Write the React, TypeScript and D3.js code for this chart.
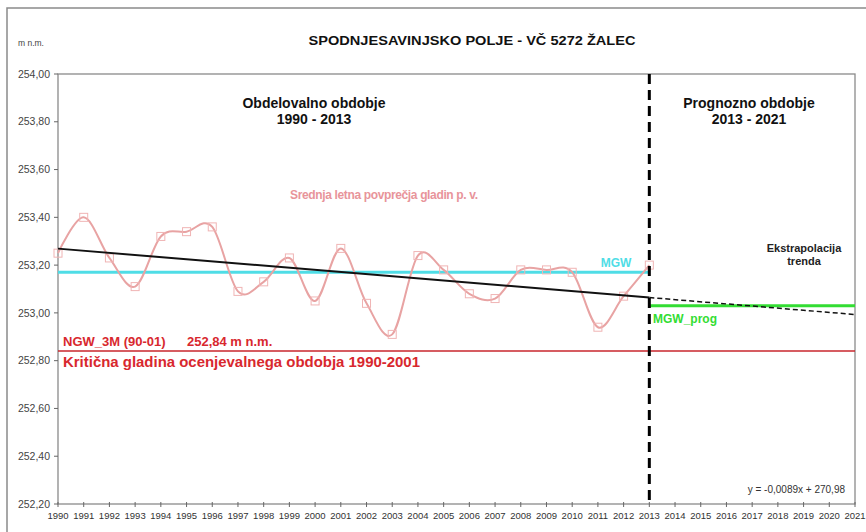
import React from 'react';
import * as d3 from 'd3';

const xTickYears = [1990, 1991, 1992, 1993, 1994, 1995, 1996, 1997, 1998, 1999, 2000, 2001, 2002, 2003, 2004, 2005, 2006, 2007, 2008, 2009, 2010, 2011, 2012, 2013, 2014, 2015, 2016, 2017, 2018, 2019, 2020, 2021];
const obsYears = [1990, 1991, 1992, 1993, 1994, 1995, 1996, 1997, 1998, 1999, 2000, 2001, 2002, 2003, 2004, 2005, 2006, 2007, 2008, 2009, 2010, 2011, 2012, 2013];
const levels = [253.25, 253.40, 253.23, 253.11, 253.32, 253.34, 253.36, 253.09, 253.13, 253.23, 253.05, 253.27, 253.04, 252.91, 253.24, 253.18, 253.08, 253.06, 253.18, 253.18, 253.17, 252.94, 253.07, 253.20];
const yTicks = [252.2, 252.4, 252.6, 252.8, 253.0, 253.2, 253.4, 253.6, 253.8, 254.0];
const trendSlope = -0.0089;
const trendIntercept = 270.98;
const mgw = 253.17;
const mgwProg = 253.03;
const ngw = 252.84;
const splitYear = 2013;
const firstYear = 1990;
const lastYear = 2021;

const W = 866;
const H = 532;
const FONT = '"Liberation Sans", Arial, sans-serif';

export default function App() {
  const x = d3.scaleLinear().domain([firstYear, lastYear]).range([58, 855]);
  const y = d3.scaleLinear().domain([252.2, 254]).range([504, 74]);
  const fmt = (v: number) => d3.format('.2f')(v).replace('.', ',');
  const trend = (yr: number) => trendSlope * yr + trendIntercept;

  const pts: [number, number][] = obsYears.map((yr, i) => [x(yr), y(levels[i])]);
  const smooth = d3.line().curve(d3.curveCatmullRom.alpha(0))(pts) || '';
  const trendSolid = d3.line()([[x(firstYear), y(trend(firstYear))], [x(splitYear), y(trend(splitYear))]]) || '';
  const trendDash = d3.line()([[x(splitYear), y(trend(splitYear))], [x(lastYear), y(trend(lastYear))]]) || '';

  const [x0, x1] = x.range();
  const [yb, yt] = y.range();

  return (
    <svg width={W} height={H} style={{ position: 'absolute', left: 0, top: 0, background: '#fff' }} fontFamily={FONT}>
      <rect x={0} y={0} width={W} height={H} fill="#fff" />
      {/* outer frame */}
      <rect x={7} y={8} width={900} height={560} fill="none" stroke="#8a8a8a" strokeWidth={1.5} />
      {/* plot frame */}
      <rect x={x0} y={yt} width={x1 - x0} height={yb - yt} fill="none" stroke="#8a8a8a" strokeWidth={1.3} />

      {/* title */}
      <text x={472} y={45} textAnchor="middle" fontWeight="bold" fontSize={13} fill="#111" textLength={327} lengthAdjust="spacingAndGlyphs">SPODNJESAVINJSKO POLJE - VČ 5272 ŽALEC</text>
      <text x={18} y={46} fontSize={8.5} fill="#444">m n.m.</text>

      {/* y axis */}
      {yTicks.map((t) => (
        <g key={t}>
          <line x1={x0 - 4} x2={x0} y1={y(t)} y2={y(t)} stroke="#666" strokeWidth={1} />
          <text x={50} y={y(t)} dy="0.35em" textAnchor="end" fontSize={10.5} fill="#444">{fmt(t)}</text>
        </g>
      ))}
      {/* x axis */}
      {xTickYears.map((yr) => (
        <g key={yr}>
          <line x1={x(yr)} x2={x(yr)} y1={yb - 2} y2={yb + 3} stroke="#666" strokeWidth={1} />
          <text x={x(yr)} y={yb + 12} dy="0.35em" textAnchor="middle" fontSize={9.5} fill="#333">{yr}</text>
        </g>
      ))}

      {/* NGW red line */}
      <line x1={x0} x2={x1} y1={y(ngw)} y2={y(ngw)} stroke="#c8262c" strokeWidth={1.5} />
      {/* MGW cyan */}
      <line x1={x(firstYear)} x2={x(splitYear)} y1={y(mgw)} y2={y(mgw)} stroke="#4fdde6" strokeWidth={3} />
      {/* MGW_prog green */}
      <line x1={x(splitYear)} x2={x(lastYear)} y1={y(mgwProg)} y2={y(mgwProg)} stroke="#33dd33" strokeWidth={3} />

      {/* smoothed series */}
      <path d={smooth} fill="none" stroke="#e8a3a3" strokeWidth={2} />
      {pts.map(([px, py], i) => (
        <rect key={i} x={px - 4} y={py - 4} width={8} height={8} fill="none" stroke="#f0b4b4" strokeWidth={1} />
      ))}

      {/* trend */}
      <path d={trendSolid} fill="none" stroke="#111" strokeWidth={2} />
      <path d={trendDash} fill="none" stroke="#111" strokeWidth={1.5} strokeDasharray="5,3" />

      {/* split line */}
      <line x1={x(splitYear)} x2={x(splitYear)} y1={yt} y2={yb - 4} stroke="#000" strokeWidth={3} strokeDasharray="10,6" />

      {/* annotations */}
      <text x={314} y={108} textAnchor="middle" fontWeight="bold" fontSize={14} fill="#111">Obdelovalno obdobje</text>
      <text x={314} y={124} textAnchor="middle" fontWeight="bold" fontSize={14} fill="#111">1990 - 2013</text>
      <text x={749} y={108} textAnchor="middle" fontWeight="bold" fontSize={14} fill="#111">Prognozno obdobje</text>
      <text x={749} y={124} textAnchor="middle" fontWeight="bold" fontSize={14} fill="#111">2013 - 2021</text>
      <text x={384} y={199} textAnchor="middle" fontWeight="bold" fontSize={12} fill="#e8949a" textLength={188} lengthAdjust="spacing">Srednja letna povprečja gladin p. v.</text>
      <text x={616} y={267} textAnchor="middle" fontWeight="bold" fontSize={12} fill="#4fdde6">MGW</text>
      <text x={653} y={323} fontWeight="bold" fontSize={12} fill="#33dd33">MGW_prog</text>
      <text x={804} y={252} textAnchor="middle" fontWeight="bold" fontSize={11} fill="#222">Ekstrapolacija</text>
      <text x={804} y={265} textAnchor="middle" fontWeight="bold" fontSize={11} fill="#222">trenda</text>
      <text x={63} y={346} fontWeight="bold" fontSize={13} fill="#d8282e">NGW_3M (90-01)</text>
      <text x={187} y={346} fontWeight="bold" fontSize={13} fill="#d8282e">252,84 m n.m.</text>
      <text x={63} y={367} fontWeight="bold" fontSize={14} fill="#d8282e" textLength={357} lengthAdjust="spacingAndGlyphs">Kritična gladina ocenjevalnega obdobja 1990-2001</text>
      <text x={845} y={493} textAnchor="end" fontSize={10} fill="#333">y = -0,0089x + 270,98</text>
    </svg>
  );
}
